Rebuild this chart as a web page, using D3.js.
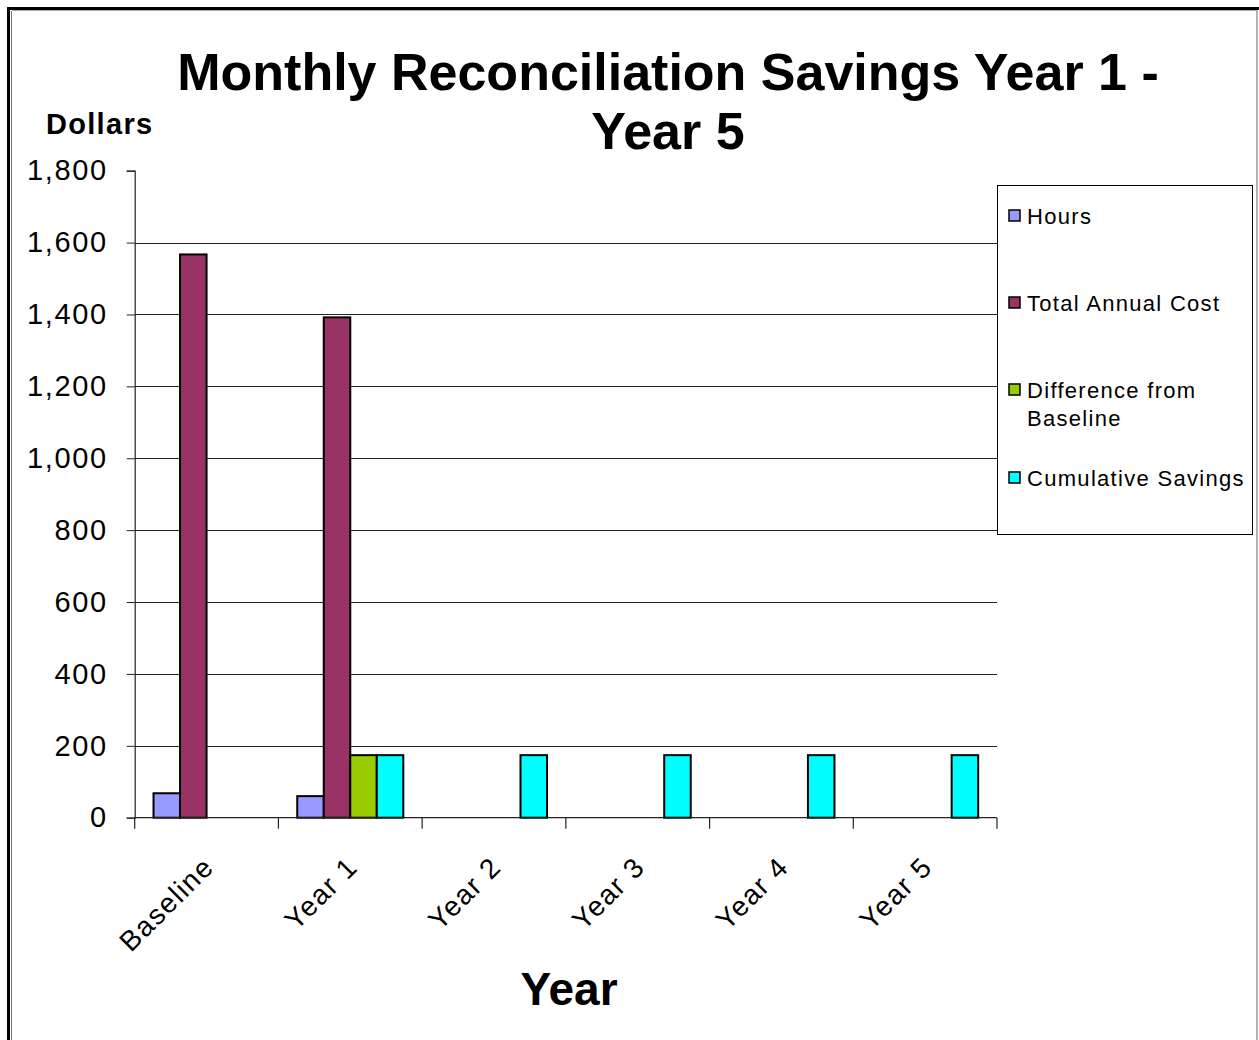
<!DOCTYPE html>
<html>
<head>
<meta charset="utf-8">
<script src="https://cdn.jsdelivr.net/npm/d3@7"></script>
<style>
  html, body { margin: 0; padding: 0; background: #fff; }
  svg { display: block; font-family: Arial, "Liberation Sans", sans-serif; }
</style>
</head>
<body>
<svg id="chart" width="1259" height="1040"></svg>
<script>
// Chart data
const categories = ["Baseline", "Year 1", "Year 2", "Year 3", "Year 4", "Year 5"];
const seriesNames = ["Hours", "Total Annual Cost", "Difference from Baseline", "Cumulative Savings"];
const hours = [68, 60, null, null, null, null];
const totalAnnualCost = [1567, 1392, null, null, null, null];
const differenceFromBaseline = [null, 174, null, null, null, null];
const cumulativeSavings = [null, 174, 174, 174, 174, 174];
const yTicks = [0, 200, 400, 600, 800, 1000, 1200, 1400, 1600, 1800];
const seriesColors = ["#9999FF", "#993366", "#99CC00", "#00FFFF"];

const seriesValues = [hours, totalAnnualCost, differenceFromBaseline, cumulativeSavings];

const svg = d3.select("#chart");

// Outer frame: heavy black line with a thin grey rule inside
svg.append("line").attr("x1", 8.5).attr("y1", 8.5).attr("x2", 8.5).attr("y2", 1040)
  .attr("stroke", "#000").attr("stroke-width", 3);
svg.append("line").attr("x1", 7).attr("y1", 8.5).attr("x2", 1259).attr("y2", 8.5)
  .attr("stroke", "#000").attr("stroke-width", 3);
svg.append("line").attr("x1", 11.5).attr("y1", 11).attr("x2", 11.5).attr("y2", 1040)
  .attr("stroke", "#777").attr("stroke-width", 1);
svg.append("line").attr("x1", 12).attr("y1", 10.5).attr("x2", 1257).attr("y2", 10.5)
  .attr("stroke", "#aaa").attr("stroke-width", 1);
svg.append("line").attr("x1", 1257).attr("y1", 10).attr("x2", 1257).attr("y2", 1040)
  .attr("stroke", "#999").attr("stroke-width", 1.5);

const plot = { left: 134.7, right: 997, top: 170.7, bottom: 817.7 };

const x0 = d3.scaleBand().domain(categories).range([plot.left, plot.right]).padding(0);
const x1 = d3.scaleBand().domain(seriesNames).range([0, x0.bandwidth()])
  .paddingInner(0).paddingOuter(0.71);
const y = d3.scaleLinear().domain([0, 1800]).range([plot.bottom, plot.top]);

// Horizontal gridlines
svg.append("g").selectAll("line")
  .data(yTicks.filter(t => t > 0 && t < 1800))
  .join("line")
  .attr("x1", plot.left).attr("x2", plot.right)
  .attr("y1", d => Math.round(y(d)) + 0.5).attr("y2", d => Math.round(y(d)) + 0.5)
  .attr("stroke", "#222").attr("stroke-width", 1);

// Bars
const barData = [];
seriesNames.forEach((s, si) => {
  categories.forEach((c, ci) => {
    const v = seriesValues[si][ci];
    if (v != null) barData.push({ series: s, cat: c, value: v, color: seriesColors[si] });
  });
});
svg.append("g").selectAll("rect")
  .data(barData)
  .join("rect")
  .attr("x", d => x0(d.cat) + x1(d.series))
  .attr("y", d => y(d.value))
  .attr("width", x1.bandwidth())
  .attr("height", d => y(0) - y(d.value))
  .attr("fill", d => d.color)
  .attr("stroke", "#000")
  .attr("stroke-width", 2);

// Y axis
const yAxis = d3.axisLeft(y).tickValues(yTicks).tickSize(8).tickPadding(19)
  .tickFormat(d3.format(","));
const gy = svg.append("g").attr("transform", `translate(${plot.left},0)`).call(yAxis);
gy.select(".domain").attr("stroke", "#222").attr("stroke-width", 1.2);
gy.selectAll(".tick line").attr("stroke", "#222");
gy.selectAll("text").attr("font-size", 29).attr("letter-spacing", 1.6).attr("fill", "#000")
  .attr("font-family", "Arial, 'Liberation Sans', sans-serif");

// X axis: baseline plus ticks at category boundaries
svg.append("line").attr("x1", plot.left).attr("x2", plot.right)
  .attr("y1", plot.bottom).attr("y2", plot.bottom)
  .attr("stroke", "#222").attr("stroke-width", 1.2);
const boundaries = categories.map(c => x0(c)).concat([plot.right]);
svg.append("g").selectAll("line")
  .data(boundaries)
  .join("line")
  .attr("x1", d => d).attr("x2", d => d)
  .attr("y1", plot.bottom).attr("y2", plot.bottom + 11)
  .attr("stroke", "#222").attr("stroke-width", 1.2);

// Rotated category labels
svg.append("g").selectAll("text")
  .data(categories)
  .join("text")
  .attr("transform", d => `translate(${x0(d) + x0.bandwidth() / 2 + 2},${plot.bottom + 44}) rotate(-45)`)
  .attr("text-anchor", "end")
  .attr("dy", "0.35em")
  .attr("font-size", 28)
  .attr("letter-spacing", 1.5)
  .attr("fill", "#000")
  .text(d => d);

// Titles
const title = svg.append("text").attr("text-anchor", "middle")
  .attr("font-weight", "bold").attr("font-size", 52).attr("fill", "#000");
title.append("tspan").attr("x", 668).attr("y", 90).text("Monthly Reconciliation Savings Year 1 -");
title.append("tspan").attr("x", 668).attr("y", 149).text("Year 5");

svg.append("text").attr("x", 46).attr("y", 134)
  .attr("font-weight", "bold").attr("font-size", 29).attr("letter-spacing", 1.3).attr("fill", "#000")
  .text("Dollars");

svg.append("text").attr("x", 569).attr("y", 1005).attr("text-anchor", "middle")
  .attr("font-weight", "bold").attr("font-size", 46).attr("fill", "#000")
  .text("Year");

// Legend
const legend = svg.append("g");
legend.append("rect").attr("x", 997.5).attr("y", 185.5).attr("width", 255).attr("height", 349)
  .attr("fill", "#fff").attr("stroke", "#000").attr("stroke-width", 1);
const legendRows = [
  { name: "Hours", lines: ["Hours"], y: 216 },
  { name: "Total Annual Cost", lines: ["Total Annual Cost"], y: 303 },
  { name: "Difference from Baseline", lines: ["Difference from", "Baseline"], y: 390 },
  { name: "Cumulative Savings", lines: ["Cumulative Savings"], y: 478 }
];
legendRows.forEach(r => {
  legend.append("rect").attr("x", 1009).attr("y", r.y - 6).attr("width", 11).attr("height", 11)
    .attr("fill", seriesColors[seriesNames.indexOf(r.name)])
    .attr("stroke", "#000").attr("stroke-width", 1.5);
  const t = legend.append("text").attr("font-size", 22).attr("letter-spacing", 1.3).attr("fill", "#000");
  r.lines.forEach((ln, li) => {
    t.append("tspan").attr("x", 1027).attr("y", r.y + 8 + li * 28).text(ln);
  });
});
</script>
</body>
</html>
